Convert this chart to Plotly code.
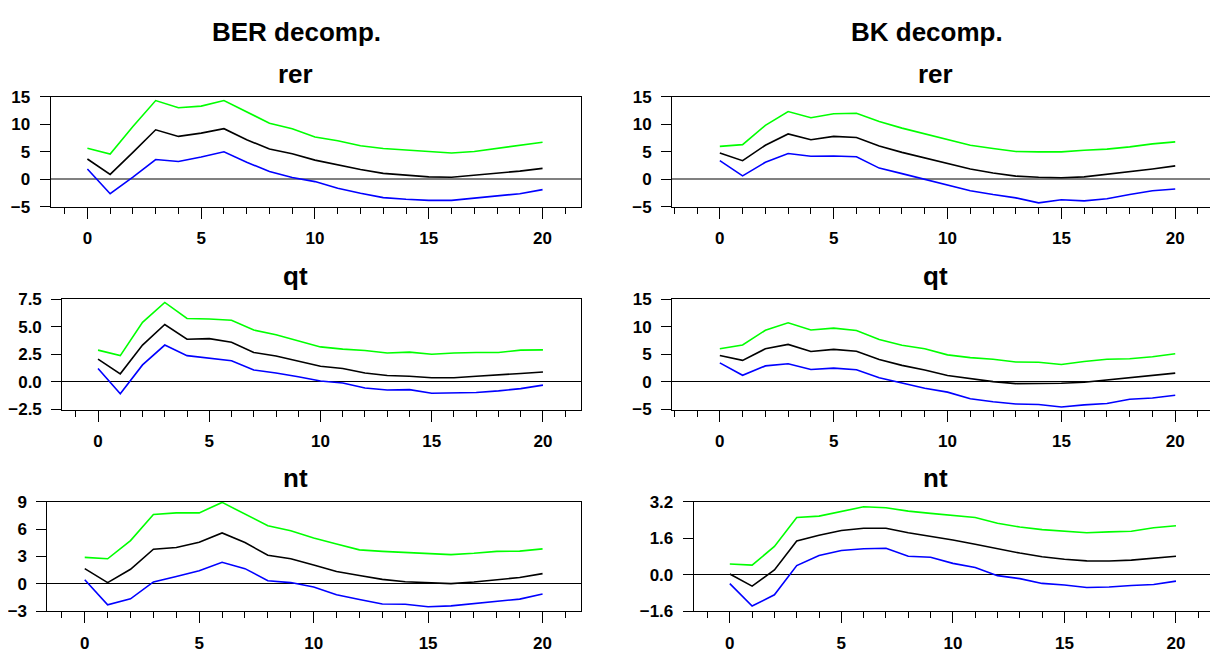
import plotly.graph_objects as go

horizon = list(range(21))

# BER decomposition
ber_rer_hi = [5.64, 4.6, 9.6, 14.3, 13.0, 13.3, 14.3, 12.2, 10.2, 9.2, 7.7, 7.0, 6.1, 5.6, 5.35, 5.1, 4.8, 5.05, 5.6, 6.1, 6.75]
ber_rer_mid = [3.7, 0.9, 4.9, 9.0, 7.8, 8.4, 9.2, 7.2, 5.5, 4.65, 3.5, 2.6, 1.8, 1.1, 0.75, 0.45, 0.4, 0.75, 1.1, 1.5, 2.0]
ber_rer_lo = [1.9, -2.6, 0.4, 3.6, 3.25, 4.05, 5.0, 3.1, 1.45, 0.35, -0.4, -1.6, -2.5, -3.3, -3.6, -3.8, -3.8, -3.4, -2.9, -2.6, -1.85]

ber_qt_hi = [2.88, 2.38, 5.4, 7.2, 5.75, 5.7, 5.58, 4.7, 4.27, 3.72, 3.17, 2.97, 2.85, 2.62, 2.7, 2.5, 2.62, 2.67, 2.67, 2.88, 2.9]
ber_qt_mid = [2.06, 0.73, 3.34, 5.2, 3.87, 3.92, 3.6, 2.67, 2.35, 1.86, 1.42, 1.22, 0.81, 0.58, 0.52, 0.38, 0.38, 0.52, 0.61, 0.76, 0.9]
ber_qt_lo = [1.22, -1.08, 1.54, 3.34, 2.38, 2.18, 1.92, 1.08, 0.81, 0.47, 0.09, -0.09, -0.55, -0.73, -0.7, -1.02, -0.96, -0.96, -0.81, -0.61, -0.29]

ber_nt_hi = [2.9, 2.75, 4.74, 7.6, 7.78, 7.78, 8.93, 7.7, 6.38, 5.82, 5.02, 4.36, 3.73, 3.56, 3.42, 3.28, 3.21, 3.35, 3.56, 3.59, 3.84]
ber_nt_mid = [1.67, 0.14, 1.6, 3.8, 3.98, 4.57, 5.58, 4.53, 3.14, 2.76, 2.06, 1.36, 0.91, 0.49, 0.24, 0.1, 0.03, 0.21, 0.45, 0.7, 1.12]
ber_nt_lo = [0.45, -2.3, -1.64, 0.21, 0.8, 1.43, 2.37, 1.67, 0.35, 0.14, -0.35, -1.19, -1.71, -2.2, -2.23, -2.51, -2.41, -2.16, -1.88, -1.67, -1.12]

# BK decomposition
bk_rer_hi = [6.0, 6.3, 9.8, 12.3, 11.2, 11.9, 12.0, 10.5, 9.3, 8.3, 7.2, 6.2, 5.6, 5.05, 5.0, 5.0, 5.3, 5.5, 5.9, 6.45, 6.8]
bk_rer_mid = [4.8, 3.4, 6.2, 8.25, 7.2, 7.8, 7.6, 6.05, 4.9, 3.9, 2.8, 1.9, 1.15, 0.6, 0.4, 0.3, 0.45, 0.9, 1.4, 1.9, 2.45]
bk_rer_lo = [3.4, 0.65, 3.1, 4.7, 4.2, 4.25, 4.1, 2.05, 1.05, 0.0, -1.05, -2.05, -2.75, -3.35, -4.25, -3.7, -3.9, -3.5, -2.75, -2.05, -1.75]

bk_qt_hi = [6.0, 6.7, 9.35, 10.7, 9.4, 9.75, 9.3, 7.7, 6.65, 6.0, 4.9, 4.4, 4.1, 3.6, 3.55, 3.15, 3.7, 4.1, 4.2, 4.55, 5.1]
bk_qt_mid = [4.8, 3.9, 6.0, 6.8, 5.5, 5.9, 5.55, 4.05, 3.0, 2.15, 1.15, 0.6, 0.05, -0.3, -0.3, -0.25, -0.05, 0.35, 0.75, 1.15, 1.6]
bk_qt_lo = [3.45, 1.2, 2.9, 3.3, 2.25, 2.5, 2.2, 0.75, -0.2, -1.15, -1.85, -3.05, -3.6, -4.0, -4.1, -4.55, -4.15, -3.9, -3.15, -2.9, -2.4]

bk_nt_hi = [0.47, 0.42, 1.24, 2.51, 2.57, 2.78, 2.98, 2.94, 2.79, 2.69, 2.61, 2.51, 2.26, 2.09, 1.98, 1.9, 1.84, 1.88, 1.91, 2.06, 2.15]
bk_nt_mid = [0.03, -0.5, 0.21, 1.48, 1.73, 1.94, 2.04, 2.04, 1.84, 1.69, 1.52, 1.34, 1.13, 0.95, 0.79, 0.68, 0.61, 0.6, 0.64, 0.71, 0.81]
bk_nt_lo = [-0.39, -1.37, -0.88, 0.4, 0.84, 1.06, 1.14, 1.16, 0.81, 0.77, 0.5, 0.32, -0.04, -0.17, -0.38, -0.45, -0.56, -0.54, -0.47, -0.43, -0.28]

column_titles = ["BER decomp.", "BK decomp."]
panel_titles = ["rer", "qt", "nt"]

# The page body has an 8px default margin; the figure is placed inside it.
OFF = 8
W, H = 1218 - OFF, 661 - 2 * OFF
FONT = "Arial, 'Liberation Sans', sans-serif"


def px_x(p):
    return (p - OFF) / W


def px_y(p):
    return 1 - (p - OFF) / H


# (series, box px on page [x0,x1,y0,y1], xrange, yrange, ytick step, tick format, zero color, zero width)
panels = [
    ((ber_rer_hi, ber_rer_mid, ber_rer_lo), (48.6, 579.5, 90.8, 205.3), [-1.62, 21.67], [-5, 15], 5, "d", "#808080", 2),
    ((bk_rer_hi, bk_rer_mid, bk_rer_lo), (671.1, 1212.1, 90.8, 205.3), [-2.1, 21.62], [-5, 15], 5, "d", "#808080", 2),
    ((ber_qt_hi, ber_qt_mid, ber_qt_lo), (60.3, 579.5, 301, 415.7), [-1.61, 21.69], [-2.5, 7.5], 2.5, ".1f", "#000000", 1),
    ((bk_qt_hi, bk_qt_mid, bk_qt_lo), (671.1, 1212.1, 301, 415.7), [-2.1, 21.62], [-5, 15], 5, "d", "#000000", 1),
    ((ber_nt_hi, ber_nt_mid, ber_nt_lo), (45.5, 579.5, 511.5, 625.2), [-1.63, 21.66], [-3, 9], 3, "d", "#000000", 1),
    ((bk_nt_hi, bk_nt_mid, bk_nt_lo), (692.8, 1212.1, 511.5, 625.2), [-1.62, 21.62], [-1.6, 3.2], 1.6, ".1f", "#000000", 1),
]

colors = ["#00FF00", "#000000", "#0000FF"]

fig = go.Figure()
layout = {}
for i, (series, box, xr, yr, step, fmt, zc, zw) in enumerate(panels):
    n = i + 1
    sx = "" if n == 1 else str(n)
    x0, x1, y0, y1 = box
    for s, c in zip(series, colors):
        fig.add_trace(go.Scatter(x=horizon, y=s, mode="lines",
                                 line=dict(color=c, width=1.6),
                                 xaxis="x" + sx, yaxis="y" + sx,
                                 showlegend=False, hoverinfo="skip"))
    layout["xaxis" + sx] = dict(
        domain=[px_x(x0), px_x(x1)], anchor="y" + sx, range=xr,
        showgrid=False, zeroline=False, showline=True, linecolor="#000000",
        linewidth=1, mirror=True, ticks="outside", tickmode="linear",
        tick0=0, dtick=5, ticklen=11, tickcolor="#000000", tickwidth=1,
        minor=dict(ticks="outside", tick0=0, dtick=1, ticklen=6,
                   tickcolor="#000000", tickwidth=1, showgrid=False),
        ticklabelstandoff=5,
        tickfont=dict(family=FONT, size=17, color="#000000", weight="bold"),
    )
    layout["yaxis" + sx] = dict(
        domain=[px_y(y1), px_y(y0)], anchor="x" + sx, range=yr,
        showgrid=False, zeroline=True, zerolinecolor=zc, zerolinewidth=zw,
        showline=True, linecolor="#000000", linewidth=1, mirror=True,
        ticks="outside", ticklen=10, tickcolor="#000000", tickwidth=1,
        tickmode="linear", tick0=yr[0], dtick=step, tickformat=fmt,
        ticklabelstandoff=6,
        tickfont=dict(family=FONT, size=17, color="#000000", weight="bold"),
    )

annotations = []
col_centers = [295, 927]
panel_centers = [294, 935]
for cx, t in zip(col_centers, column_titles):
    annotations.append(dict(text=t, x=px_x(cx), y=px_y(24), xref="paper", yref="paper",
                            xanchor="center", yanchor="middle", showarrow=False,
                            font=dict(family=FONT, size=26, color="#000000", weight="bold")))
for r, (t, base) in enumerate(zip(panel_titles, [76, 286, 496])):
    for cx in panel_centers:
        annotations.append(dict(text=t, x=px_x(cx), y=px_y(base - 9), xref="paper", yref="paper",
                                xanchor="center", yanchor="middle", showarrow=False,
                                font=dict(family=FONT, size=26, color="#000000", weight="bold")))

fig.update_layout(width=W, height=H, margin=dict(l=0, r=0, t=0, b=0),
                  paper_bgcolor="white", plot_bgcolor="white",
                  showlegend=False, annotations=annotations, **layout)

fig.write_html("out.html")
